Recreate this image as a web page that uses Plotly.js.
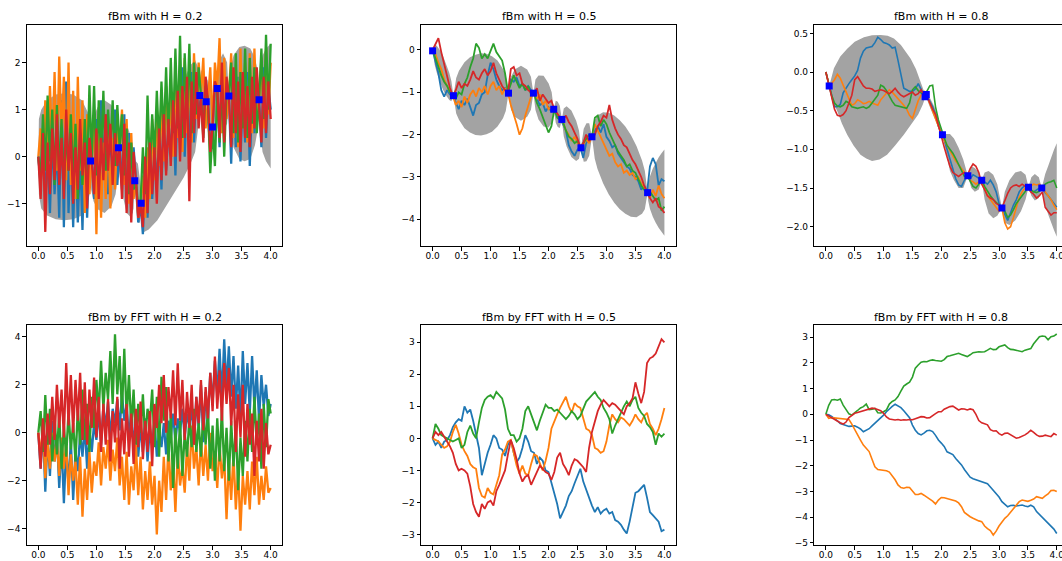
<!DOCTYPE html>
<html><head><meta charset="utf-8">
<script src="https://cdn.plot.ly/plotly-3.0.1.min.js"></script>
<style>html,body{margin:0;padding:0;overflow:hidden;background:#fff;}#chart{width:1080px;height:561px;}</style>
</head><body><div id="chart"></div>
<script>
// ---------- titles & ticks ----------
const titles = ['fBm with H = 0.2','fBm with H = 0.5','fBm with H = 0.8',
                'fBm by FFT with H = 0.2','fBm by FFT with H = 0.5','fBm by FFT with H = 0.8'];
const xTicks = [0,0.5,1,1.5,2,2.5,3,3.5,4];
const xTickText = ['0.0','0.5','1.0','1.5','2.0','2.5','3.0','3.5','4.0'];
const yTicks = [[-1,0,1,2],[-4,-3,-2,-1,0],[-2,-1.5,-1,-0.5,0,0.5],[-4,-2,0,2,4],[-3,-2,-1,0,1,2,3],[-5,-4,-3,-2,-1,0,1,2,3]];
const yTickText = [['−1','0','1','2'],['−4','−3','−2','−1','0'],['−2.0','−1.5','−1.0','−0.5','0.0','0.5'],
                   ['−4','−2','0','2','4'],['−3','−2','−1','0','1','2','3'],['−5','−4','−3','−2','−1','0','1','2','3']];
const yRanges = [[-1.9,2.8],[-4.63,0.59],[-2.25,0.608],[-4.68,4.49],[-3.33,3.54],[-5.09,3.48]];

// time grids (sampling of the paths)
const t04 = Array.from({length:101},(_,i)=>+(i*0.04).toFixed(2));
const t05 = Array.from({length:81},(_,i)=>+(i*0.05).toFixed(2));

// ---------- plot 1: fBm H=0.2 (conditioned) ----------
const p1Blue = [0,-0.6,0.4,-1.0,0.2,-1.2,0.5,-0.8,0.3,-1.3,1.2,
 -1.5,1.6,-1.2,0.4,-1.5,0.3,-1.4,0.1,-1.56,0.5,-1.3,0.2,
 -0.1,
 -0.9,0.8,-0.7,1.2,-0.4,0.9,-0.8,0.6,-0.3,1.0,-0.6,
 0.2,
 -0.7,0.9,-1.0,0.5,-1.2,0.2,
 -0.5,-1.4,-1.0,
 -1.65,-0.2,-1.3,0.4,-0.9,0.1,-0.6,0.7,-0.7,1.0,-0.3,0.6,0.1,1.3,-0.4,1.5,0.3,1.9,0.0,1.6,0.4,1.8,0.3,1.5,0.9,
 1.3,
 0.5,1.6,1.17,0.2,
 0.63,1.5,1.45,
 0.2,1.8,0.5,1.6,
 1.29,
 -0.15,1.5,0.2,1.7,-0.1,1.4,0.3,1.8,-0.2,1.2,0.5,1.6,
 1.2,
 0.2,1.9,0.4,1.5,1.0];
const p1Orange = [0,0.6,-0.4,1.2,-0.2,1.5,0.1,1.8,-0.3,2.13,0.4,
 1.7,-0.5,2.0,-0.6,1.4,-0.9,1.7,-0.3,1.2,-1.2,0.9,-0.8,
 -0.1,
 0.8,-1.65,0.6,-1.3,0.3,-0.9,0.7,-1.1,0.4,-0.7,0.6,
 0.2,
 1.0,-0.6,0.8,-1.0,0.5,-0.9,
 -0.5,-1.3,-1.0,
 -0.4,-1.3,0.2,-0.9,0.8,-0.5,1.0,-0.2,1.2,-0.1,1.5,0.2,1.3,0.0,1.7,0.4,1.9,0.1,2.1,0.5,1.8,0.3,2.2,0.8,2.0,
 1.3,
 2.1,0.6,1.17,1.9,
 0.63,2.0,1.45,
 2.52,0.5,2.1,0.8,
 1.29,
 2.2,0.4,1.9,0.2,2.3,0.6,2.0,0.3,2.2,0.5,2.3,0.7,
 1.2,
 2.1,0.6,2.3,0.9,2.0];
const p1Green = [0,-0.5,0.9,-0.3,1.3,-0.1,1.0,-0.6,1.1,-0.4,0.8,
 -0.7,0.6,-0.3,0.9,-0.5,0.7,-0.9,0.5,-0.6,0.8,-0.4,1.52,
 -0.1,
 1.5,-0.4,1.2,0.0,1.4,-0.3,1.0,0.1,1.2,-0.2,1.1,
 0.2,
 0.9,-0.4,0.6,-0.8,0.3,-0.7,
 -0.5,-1.1,-1.0,
 0.2,-0.8,1.3,-0.3,0.9,0.0,1.4,0.2,1.6,0.4,1.9,0.3,2.1,0.5,2.3,0.6,2.57,0.4,2.2,0.8,2.4,0.5,2.0,0.9,1.9,
 1.3,
 0.4,1.5,1.17,-0.35,
 0.63,-0.2,1.45,
 0.3,1.6,0.0,1.4,
 1.29,
 2.0,0.5,2.2,0.3,1.8,0.6,2.3,0.4,2.1,0.7,1.9,0.5,
 1.2,
 2.3,0.8,2.59,1.0,2.4];
const p1Red = [0,-0.9,0.5,-1.6,0.3,-0.8,0.6,-0.5,0.9,-0.6,0.4,
 -0.9,1.0,-0.3,0.5,-1.0,0.2,-0.7,0.8,-0.4,0.3,-1.1,0.4,
 -0.1,
 -0.8,0.6,-0.9,0.4,-0.5,0.9,-0.3,0.7,-0.6,0.5,-0.2,
 0.2,
 -0.9,0.7,-1.2,0.3,-1.4,0.1,
 -0.5,-1.3,-1.0,
 -1.5,0.0,-1.2,0.3,-0.8,0.2,-1.0,0.6,-0.5,0.9,-0.4,0.8,-0.2,1.2,0.0,1.4,-0.1,1.5,0.4,1.7,-0.95,1.6,0.5,1.8,0.6,
 1.3,
 0.3,1.7,1.17,0.1,
 0.63,1.6,1.45,
 0.4,2.0,0.3,1.7,
 1.29,
 0.2,1.9,0.5,1.6,0.1,1.8,0.4,1.5,0.2,1.7,0.6,1.9,
 1.2,
 0.3,1.7,0.5,1.6,0.8];
const p1PtsX = [0.90,1.38,1.66,1.77,2.78,2.89,3.00,3.08,3.28,3.80];
const p1PtsY = [-0.09,0.19,-0.51,-0.99,1.30,1.17,0.63,1.45,1.29,1.21];
const p1BandX = [0,0.01,0.05,0.15,0.3,0.45,0.6,0.75,0.85,0.89,0.90,
 0.91,0.95,1.02,1.14,1.26,1.33,1.37,1.38,
 1.39,1.43,1.52,1.6,1.64,1.66,
 1.68,1.715,1.75,1.77,
 1.78,1.82,1.9,2.05,2.2,2.35,2.5,2.62,2.7,2.75,2.78,
 2.80,2.835,2.87,2.89,
 2.91,2.945,2.98,3.00,
 3.02,3.04,3.065,3.08,
 3.10,3.18,3.25,3.28,
 3.30,3.36,3.46,3.55,3.65,3.73,3.78,3.80,
 3.82,3.86,3.92,4.0];
const p1BandUp = [0,0.8,1.0,1.2,1.32,1.35,1.32,1.2,0.95,0.6,-0.09,
 0.5,0.85,1.05,1.2,1.1,0.9,0.6,0.19,
 0.6,0.8,0.7,0.4,0.1,-0.51,
 -0.1,-0.15,-0.5,-0.99,
 -0.5,-0.2,0.05,0.45,0.8,1.2,1.6,1.95,2.05,1.9,1.30,
 1.8,1.9,1.75,1.17,
 1.65,1.55,1.2,0.63,
 1.3,1.6,1.85,1.45,
 2.0,2.2,2.0,1.29,
 1.85,2.15,2.33,2.36,2.3,2.1,1.8,1.21,
 1.9,2.15,2.3,2.4];
const p1BandLo = [0,-0.8,-1.1,-1.25,-1.33,-1.35,-1.33,-1.25,-1.0,-0.75,-0.09,
 -0.7,-0.95,-1.12,-1.2,-1.05,-0.8,-0.4,0.19,
 -0.3,-0.7,-1.2,-1.3,-1.1,-0.51,
 -1.0,-1.4,-1.4,-0.99,
 -1.45,-1.6,-1.55,-1.35,-1.05,-0.75,-0.45,-0.15,0.1,0.6,1.30,
 0.8,0.6,0.7,1.17,
 0.6,0.3,0.2,0.63,
 0.3,0.4,0.8,1.45,
 0.9,0.55,0.7,1.29,
 0.7,0.2,-0.05,-0.1,-0.05,0.25,0.6,1.21,
 0.5,0.1,-0.1,-0.25];

// ---------- plot 2: fBm H=0.5 (conditioned) ----------
const p2Blue = [0,-0.25,-0.55,-0.95,-1.1,-0.95,-1.05,-1.08,-1.25,-1.4,
 -1.2,-1.3,-1.15,-1.35,-1.55,-1.3,-1.25,-1.05,-1.0,-0.6,
 -0.3,-0.45,-0.7,-0.85,-0.95,-0.9,-1.02,-0.7,-0.75,-0.65,
 -0.85,-0.8,-0.95,-0.85,-0.95,-1.02,-1.15,-1.3,-1.25,-1.45,
 -1.35,-1.45,-1.4,-1.55,-1.65,-1.75,-1.9,-2.25,-2.4,-2.5,
 -2.35,-2.3,-2.55,-2.2,-2.1,-2.05,-1.9,-1.8,-1.95,-1.75,
 -2.05,-2.15,-2.3,-2.25,-2.45,-2.55,-2.65,-2.75,-2.8,-2.95,
 -3.0,-3.1,-3.3,-3.2,-3.37,-2.75,-2.55,-2.7,-3.2,-3.05,
 -3.1];
const p2Orange = [0,-0.1,-0.3,-0.45,-0.7,-0.85,-1.0,-1.08,-1.3,-1.2,
 -1.35,-1.1,-1.25,-1.05,-0.95,-1.1,-0.9,-1.0,-0.85,-1.05,
 -0.85,-0.75,-0.95,-0.85,-1.05,-0.9,-1.02,-1.3,-1.5,-1.75,
 -2.0,-1.85,-1.55,-1.35,-1.1,-1.02,-1.15,-1.05,-1.3,-1.2,
 -1.4,-1.35,-1.45,-1.5,-1.6,-1.7,-1.9,-2.0,-2.15,-2.05,
 -2.2,-2.3,-2.25,-2.1,-2.2,-2.05,-1.75,-1.9,-2.05,-2.2,
 -2.35,-2.5,-2.45,-2.65,-2.75,-2.7,-2.9,-2.85,-2.95,-2.9,
 -3.05,-3.0,-3.15,-3.25,-3.37,-3.5,-3.3,-3.45,-3.2,-3.4,
 -3.5];
const p2Green = [0,-0.2,-0.45,-0.6,-0.75,-0.85,-1.0,-1.08,-1.15,-1.0,
 -1.05,-0.8,-0.65,-0.4,-0.2,0.15,0.05,-0.2,-0.1,-0.2,
 0.0,0.15,-0.05,-0.15,-0.25,-0.55,-1.0,-0.8,-0.6,-0.75,
 -0.9,-0.8,-0.95,-0.85,-1.05,-1.02,-1.25,-1.4,-1.6,-1.75,
 -1.95,-1.8,-1.4,-1.6,-1.65,-1.7,-1.9,-2.05,-2.1,-2.2,
 -2.15,-2.3,-2.2,-2.1,-2.0,-2.05,-1.6,-1.55,-1.8,-1.65,
 -1.75,-1.95,-2.1,-2.25,-2.4,-2.5,-2.6,-2.75,-2.7,-2.85,
 -2.9,-3.05,-3.2,-3.3,-3.37,-3.35,-3.45,-3.55,-3.5,-3.8,
 -3.7];
const p2Red = [0,0.15,0.28,-0.05,-0.35,-0.65,-0.9,-1.08,-0.95,-0.75,
 -0.9,-0.8,-0.85,-0.7,-0.5,-0.65,-0.7,-0.55,-0.45,-0.6,
 -0.5,-0.3,-0.55,-0.7,-0.85,-0.95,-1.02,-0.45,-0.4,-0.6,
 -0.55,-0.8,-0.85,-0.95,-1.0,-1.02,-0.9,-1.2,-1.05,-1.15,
 -1.25,-1.2,-1.4,-1.5,-1.6,-1.65,-1.55,-1.7,-1.8,-1.95,
 -2.1,-2.3,-2.2,-2.0,-2.15,-2.05,-2.0,-1.8,-1.7,-1.55,
 -1.6,-1.3,-1.65,-1.85,-2.0,-2.1,-2.25,-2.3,-2.45,-2.6,
 -2.7,-2.85,-3.0,-3.2,-3.37,-3.5,-3.6,-3.5,-3.7,-3.75,
 -3.85];
const p2PtsX = [0,0.36,1.31,1.74,2.09,2.23,2.56,2.75,3.71];
const p2PtsY = [-0.02,-1.08,-1.02,-1.02,-1.40,-1.64,-2.31,-2.05,-3.37];
const p2BandX = [0,0.036,0.072,0.108,0.144,0.18,0.216,0.252,0.288,0.324,0.36,
 0.4075,0.455,0.55,0.645,0.74,0.835,0.93,1.025,1.12,1.215,1.2625,1.31,
 1.353,1.4175,1.525,1.6325,1.697,1.74,
 1.775,1.8275,1.915,2.0025,2.055,2.09,
 2.125,2.16,2.195,2.23,
 2.263,2.3125,2.395,2.4775,2.527,2.56,
 2.6075,2.655,2.7025,2.75,
 2.798,2.846,2.942,3.038,3.134,3.23,3.326,3.422,3.518,3.614,3.662,3.71,
 3.72,3.75,3.80,3.85,3.90,3.95,4.00];
const p2BandUp = [0,0.13,0.10,0.04,-0.04,-0.14,-0.26,-0.39,-0.54,-0.73,-1.08,
 -0.66,-0.49,-0.29,-0.17,-0.11,-0.08,-0.09,-0.15,-0.25,-0.45,-0.60,-1.02,
 -0.63,-0.46,-0.37,-0.46,-0.63,-1.02,
 -0.70,-0.60,-0.61,-0.79,-1.00,-1.40,
 -1.20,-1.22,-1.32,-1.64,
 -1.38,-1.33,-1.43,-1.67,-1.91,-2.31,
 -1.86,-1.73,-1.73,-2.05,
 -1.66,-1.55,-1.47,-1.48,-1.55,-1.66,-1.81,-2.01,-2.27,-2.61,-2.85,-3.37,
 -3.18,-2.99,-2.80,-2.66,-2.54,-2.44,-2.35];
const p2BandLo = [0,-0.35,-0.54,-0.69,-0.82,-0.94,-1.04,-1.12,-1.18,-1.21,-1.08,
 -1.50,-1.65,-1.85,-1.95,-2.01,-2.02,-1.99,-1.93,-1.81,-1.61,-1.44,-1.02,
 -1.41,-1.58,-1.67,-1.58,-1.41,-1.02,
 -1.42,-1.64,-1.81,-1.83,-1.72,-1.40,
 -1.72,-1.82,-1.84,-1.64,
 -2.04,-2.28,-2.53,-2.62,-2.57,-2.31,
 -2.64,-2.63,-2.50,-2.05,
 -2.57,-2.81,-3.15,-3.41,-3.61,-3.76,-3.87,-3.94,-3.95,-3.87,-3.76,-3.37,
 -3.56,-3.75,-3.94,-4.08,-4.20,-4.30,-4.39];

// ---------- plot 3: fBm H=0.8 (conditioned) ----------
const p3Blue = [0,-0.15,-0.3,-0.45,-0.45,-0.42,-0.27,-0.2,-0.15,-0.1,
 -0.05,0.02,0.18,0.27,0.31,0.32,0.33,0.38,0.45,0.42,
 0.38,0.37,0.35,0.31,0.32,0.15,-0.05,-0.21,-0.23,-0.25,
 -0.25,-0.22,-0.15,-0.22,-0.3,-0.31,-0.38,-0.45,-0.55,-0.7,
 -0.8,-0.88,-1.0,-1.12,-1.25,-1.38,-1.46,-1.48,-1.4,-1.34,
 -1.38,-1.33,-1.35,-1.38,-1.4,-1.42,-1.45,-1.4,-1.46,-1.55,
 -1.7,-1.76,-1.85,-1.92,-1.82,-1.72,-1.65,-1.55,-1.5,-1.47,
 -1.49,-1.53,-1.55,-1.52,-1.5,-1.5,-1.56,-1.6,-1.65,-1.7,
 -1.75];
const p3Orange = [0,-0.15,-0.15,-0.1,-0.03,-0.08,-0.17,-0.25,-0.35,-0.43,
 -0.41,-0.36,-0.38,-0.41,-0.4,-0.38,-0.4,-0.42,-0.43,-0.36,
 -0.32,-0.27,-0.23,-0.26,-0.3,-0.35,-0.38,-0.43,-0.48,-0.56,
 -0.6,-0.47,-0.37,-0.3,-0.25,-0.31,-0.4,-0.5,-0.6,-0.7,
 -0.8,-0.88,-0.95,-1.02,-1.1,-1.15,-1.2,-1.25,-1.3,-1.34,
 -1.4,-1.42,-1.45,-1.42,-1.4,-1.5,-1.6,-1.65,-1.7,-1.75,
 -1.8,-1.76,-1.95,-2.03,-2.0,-1.88,-1.75,-1.62,-1.55,-1.5,
 -1.5,-1.47,-1.45,-1.46,-1.45,-1.5,-1.55,-1.6,-1.65,-1.72,
 -1.78];
const p3Green = [0,-0.15,-0.3,-0.4,-0.44,-0.45,-0.43,-0.38,-0.4,-0.45,
 -0.46,-0.47,-0.46,-0.45,-0.47,-0.45,-0.4,-0.35,-0.3,-0.17,
 -0.19,-0.24,-0.32,-0.38,-0.43,-0.44,-0.45,-0.46,-0.47,-0.4,
 -0.23,-0.19,-0.24,-0.27,-0.3,-0.25,-0.18,-0.17,-0.45,-0.62,
 -0.75,-0.85,-0.95,-1.0,-1.05,-1.12,-1.2,-1.28,-1.35,-1.34,
 -1.42,-1.48,-1.5,-1.45,-1.4,-1.48,-1.55,-1.6,-1.65,-1.68,
 -1.72,-1.76,-1.8,-1.88,-1.85,-1.78,-1.7,-1.65,-1.6,-1.55,
 -1.5,-1.52,-1.55,-1.56,-1.54,-1.5,-1.45,-1.43,-1.42,-1.4,
 -1.5];
const p3Red = [0,-0.17,-0.35,-0.48,-0.56,-0.57,-0.55,-0.5,-0.4,-0.3,
 -0.1,-0.06,-0.12,-0.18,-0.21,-0.21,-0.22,-0.25,-0.24,-0.23,
 -0.24,-0.26,-0.28,-0.25,-0.21,-0.26,-0.3,-0.32,-0.3,-0.28,
 -0.26,-0.3,-0.28,-0.23,-0.3,-0.31,-0.4,-0.48,-0.55,-0.7,
 -0.85,-0.97,-1.1,-1.22,-1.3,-1.33,-1.35,-1.32,-1.3,-1.34,
 -1.25,-1.19,-1.22,-1.3,-1.45,-1.52,-1.6,-1.63,-1.65,-1.7,
 -1.72,-1.76,-1.65,-1.57,-1.5,-1.47,-1.46,-1.48,-1.45,-1.47,
 -1.5,-1.55,-1.58,-1.63,-1.6,-1.55,-1.75,-1.8,-1.85,-1.82,
 -1.82];
const p3PtsX = [0.058,1.72,1.74,2.02,2.46,2.70,3.05,3.51,3.74];
const p3PtsY = [-0.18,-0.32,-0.29,-0.81,-1.34,-1.40,-1.76,-1.49,-1.50];
const p3UpX = [0,0.03,0.058,0.14,0.25,0.37,0.5,0.66,0.8,0.95,1.07,1.18,1.3,1.4,1.47,1.56,1.64,1.69,1.73,
 1.8,1.88,1.95,2.02,2.08,2.15,2.22,2.3,2.38,2.46,2.52,2.58,2.65,2.70,2.75,2.82,2.9,2.97,3.05,
 3.1,3.18,3.28,3.38,3.46,3.51,3.56,3.62,3.69,3.74,3.8,3.85,3.9,3.95,4.0];
const p3UpY = [0,-0.05,-0.18,0.05,0.2,0.3,0.39,0.45,0.475,0.48,0.47,0.435,0.35,0.25,0.17,0.04,-0.125,-0.22,-0.31,
 -0.33,-0.45,-0.6,-0.81,-0.8,-0.8,-0.86,-0.98,-1.13,-1.34,-1.22,-1.24,-1.3,-1.40,-1.3,-1.28,-1.33,-1.45,-1.76,
 -1.55,-1.4,-1.3,-1.28,-1.33,-1.49,-1.36,-1.32,-1.36,-1.50,-1.32,-1.22,-1.11,-1.01,-0.92];
const p3LoX = [0,0.03,0.058,0.1,0.2,0.28,0.37,0.48,0.6,0.7,0.8,0.93,1.06,1.2,1.35,1.5,1.6,1.68,1.73,
 1.8,1.88,1.95,2.02,2.08,2.15,2.22,2.3,2.38,2.46,2.52,2.58,2.65,2.70,2.75,2.82,2.9,2.97,3.05,
 3.1,3.18,3.28,3.38,3.46,3.51,3.56,3.62,3.69,3.74,3.8,3.85,3.9,3.95,4.0];
const p3LoY = [0,-0.12,-0.18,-0.35,-0.51,-0.67,-0.81,-0.95,-1.07,-1.12,-1.15,-1.13,-1.07,-0.95,-0.81,-0.66,-0.55,-0.42,-0.31,
 -0.45,-0.6,-0.72,-0.81,-1.05,-1.28,-1.4,-1.5,-1.5,-1.34,-1.5,-1.55,-1.52,-1.40,-1.65,-1.83,-1.89,-1.86,-1.76,
 -1.95,-1.98,-1.92,-1.8,-1.65,-1.49,-1.6,-1.66,-1.63,-1.50,-1.72,-1.84,-1.95,-2.04,-2.13];

// ---------- plot 4: FFT H=0.2 ----------
const p4Blue = [0,-1.5,0.3,-2.46,-0.2,-1.8,0.5,-1.2,-0.1,-2.3,-0.4,
 -2.94,-0.6,-2.2,-0.3,-2.8,-0.8,-1.6,0.0,-1.0,0.3,
 -1.5,0.1,-0.8,0.4,-0.3,0.9,-0.5,1.1,0.2,1.3,
 -0.2,1.0,0.4,1.4,0.1,1.64,0.5,1.2,-0.3,1.0,
 -0.6,0.5,-1.0,0.3,-0.8,0.6,-1.2,0.2,-0.5,0.5,
 -1.0,0.1,-0.6,0.4,-0.9,0.5,-0.2,0.8,-0.4,0.6,
 0.0,1.0,-0.2,0.8,0.3,1.1,-0.5,1.5,0.2,2.0,
 -0.4,1.7,0.5,2.5,1.2,3.0,1.6,3.5,1.4,3.89,
 1.8,3.6,1.5,3.2,1.0,2.8,0.6,3.4,1.2,2.9,
 0.8,3.2,1.0,2.6,0.5,2.4,1.1,2.0,0.7,1.2];
const p4Orange = [0,-1.0,0.3,-1.9,-0.3,-1.5,0.0,-1.2,-0.4,-1.8,-0.2,
 -1.5,-0.4,-2.6,-0.9,-2.0,-1.2,-3.0,-1.0,-3.5,-1.5,
 -2.8,-0.8,-2.5,-1.2,-1.8,-0.4,-2.2,-0.6,-1.5,-0.3,
 -2.0,-0.7,-1.6,-0.2,-2.2,-1.0,-2.8,-0.8,-3.0,-1.4,
 -2.4,-0.5,-2.6,-1.0,-3.2,-1.6,-2.8,-1.2,-3.0,-1.8,
 -4.24,-2.0,-3.3,-1.0,-2.8,-0.5,-2.4,-1.2,-3.3,-0.8,
 -2.2,-1.4,-2.5,-0.5,-2.0,0.3,-1.5,-0.6,-2.2,-0.3,
 -1.8,-0.5,-2.0,0.0,-1.6,-0.8,-2.3,-0.5,-1.9,-1.0,
 -3.6,-1.2,-2.8,-0.9,-3.2,-1.5,-4.08,-1.8,-3.0,-1.6,
 -3.2,-1.2,-2.6,-1.0,-3.0,-1.8,-2.8,-1.4,-2.5,-2.3];
const p4Green = [0,0.9,-0.8,1.57,-0.5,1.0,-1.2,0.6,-0.9,0.8,-1.5,
 0.3,-1.0,0.9,-0.7,0.4,-1.2,1.0,-0.5,1.8,-0.3,
 1.2,-0.8,1.5,0.2,2.2,0.8,3.0,1.0,2.5,1.4,
 3.4,1.2,4.1,1.6,3.2,0.8,3.5,0.6,2.4,0.2,
 1.8,-0.5,1.2,0.0,1.6,-0.3,1.0,0.4,1.8,-0.6,
 1.5,-1.0,2.33,0.5,1.9,-1.2,0.8,-2.3,0.2,-1.5,
 0.5,-1.8,0.0,-1.0,0.6,-0.6,1.0,-0.8,0.4,-1.0,
 0.8,-0.5,1.0,-1.5,0.3,-2.0,0.6,-1.2,1.0,-1.6,
 0.2,-2.0,0.5,-1.4,0.3,-2.4,-0.2,-1.8,0.5,-1.2,
 1.0,-0.8,1.5,-0.5,0.8,-1.5,1.2,-0.6,1.4,0.8];
const p4Red = [0,-1.5,0.6,-1.0,0.8,-0.5,1.5,-0.3,2.0,0.2,1.8,
 -0.2,2.9,0.3,2.4,0.0,2.2,0.5,2.5,-0.3,2.1,
 -0.5,1.8,0.2,2.3,-0.2,1.5,-0.8,1.2,-0.5,1.4,
 -1.2,0.9,-0.4,1.5,-1.5,0.6,-0.9,1.2,-1.0,0.8,
 -1.3,1.0,-0.6,1.3,-1.1,0.5,-0.8,0.9,-1.4,1.2,
 0.2,2.0,0.4,2.4,0.0,1.9,0.6,2.6,0.3,2.89,
 0.5,2.2,-0.3,1.7,0.2,2.0,-0.5,1.5,0.4,2.2,
 0.1,1.9,0.6,2.5,0.9,3.17,1.0,2.6,0.5,2.9,
 1.2,2.7,0.3,2.0,-0.8,1.6,-0.2,2.0,-1.0,1.2,
 -0.5,0.8,-1.8,0.5,-1.2,1.0,-1.5,0.4,-0.9,-0.5];

// ---------- plot 5: FFT H=0.5 ----------
const p5Blue = [0,-0.2,-0.1,-0.3,-0.1,-0.05,0.1,0.35,0.5,0.6,
 0.55,1.0,0.8,0.9,0.55,0.15,-0.3,-1.15,-0.75,-0.45,
 -0.2,0.1,0.0,-0.3,-0.35,-0.55,-0.2,-0.05,-0.45,-0.75,
 -0.6,-0.3,0.1,-0.1,-0.4,-0.45,-0.8,-0.6,-0.7,-1.0,
 -1.05,-1.4,-1.75,-2.05,-2.5,-2.3,-2.1,-1.8,-1.65,-1.4,
 -1.15,-0.95,-1.35,-1.6,-1.9,-2.1,-2.3,-2.15,-2.35,-2.25,
 -2.2,-2.35,-2.3,-2.55,-2.6,-2.7,-2.85,-2.97,-2.6,-2.2,
 -1.7,-1.65,-1.55,-1.45,-1.85,-2.3,-2.4,-2.5,-2.6,-2.9,
 -2.85];
const p5Orange = [0,-0.05,-0.1,-0.2,-0.3,-0.25,-0.1,0.2,0.42,0.15,
 -0.2,-0.4,-0.55,-0.8,-0.9,-0.95,-1.55,-1.8,-1.85,-1.55,
 -1.7,-1.75,-1.45,-1.15,-0.5,-0.35,-0.1,-0.05,-0.45,-0.85,
 -1.1,-0.85,-1.1,-1.15,-0.8,-0.5,-0.55,-0.75,-1.0,-0.7,
 -0.3,0.3,0.55,0.75,0.95,1.15,1.3,1.0,0.8,1.1,
 1.0,0.95,0.6,0.3,0.25,0.1,-0.3,-0.35,-0.45,-0.4,
 -0.1,0.4,0.75,0.6,0.5,0.65,0.6,0.5,0.4,0.55,
 0.75,0.6,0.5,0.7,0.8,0.45,0.3,0.1,0.3,0.6,
 0.95];
const p5Green = [0,0.45,0.3,0.1,0.05,0.0,-0.05,-0.1,-0.05,0.0,
 -0.3,-0.2,0.2,0.4,0.15,0.0,0.5,0.95,1.2,1.3,
 1.35,1.25,1.45,1.35,1.25,0.9,0.3,0.1,0.1,-0.1,
 0.0,0.3,0.85,1.0,0.75,0.55,0.25,0.55,0.8,1.05,
 0.95,0.95,0.85,0.9,0.8,0.7,0.6,0.7,0.85,0.75,
 0.6,0.7,0.9,1.15,1.25,1.35,1.45,1.3,1.2,0.95,
 0.8,0.6,0.15,0.4,0.6,0.85,1.0,1.15,1.0,1.2,
 1.3,0.95,0.8,0.7,0.45,0.35,0.2,-0.2,0.15,0.05,
 0.15];
const p5Red = [0,0.2,0.1,0.2,0.05,-0.1,-0.25,-0.45,-0.8,-1.0,
 -0.95,-1.0,-1.1,-1.5,-2.05,-2.3,-2.45,-2.05,-2.2,-2.0,
 -1.95,-2.1,-1.65,-1.45,-1.25,-1.0,-0.5,-0.05,-0.3,-0.65,
 -1.1,-1.35,-1.2,-1.15,-1.45,-1.25,-1.0,-0.85,-0.95,-1.05,
 -1.1,-1.3,-1.05,-0.6,-0.45,-0.8,-0.95,-1.15,-0.85,-0.65,
 -0.7,-0.8,-0.9,-1.05,-0.3,0.2,0.55,0.85,1.05,1.2,
 1.1,1.0,1.1,1.05,0.95,0.85,0.75,1.0,1.1,1.25,
 1.75,1.4,1.1,1.45,2.35,2.5,2.55,2.65,2.85,3.1,
 3.0];

// ---------- plot 6: FFT H=0.8 ----------
const p6Blue = [0,-0.02,-0.08,-0.15,-0.25,-0.36,-0.4,-0.43,-0.47,-0.46,
 -0.45,-0.5,-0.57,-0.68,-0.62,-0.56,-0.45,-0.35,-0.24,-0.12,
 -0.03,0.1,0.22,0.31,0.39,0.34,0.26,0.14,0.0,-0.13,
 -0.42,-0.62,-0.75,-0.8,-0.73,-0.64,-0.62,-0.67,-0.82,-1.0,
 -1.12,-1.25,-1.46,-1.5,-1.57,-1.72,-1.85,-1.97,-2.15,-2.32,
 -2.45,-2.51,-2.55,-2.58,-2.62,-2.65,-2.7,-2.83,-2.95,-3.06,
 -3.22,-3.4,-3.52,-3.6,-3.55,-3.54,-3.57,-3.55,-3.53,-3.57,
 -3.6,-3.54,-3.6,-3.79,-3.9,-4.0,-4.12,-4.23,-4.35,-4.47,
 -4.64];
const p6Orange = [0,-0.16,-0.13,-0.14,-0.15,-0.16,-0.16,-0.17,-0.2,-0.38,
 -0.6,-0.83,-1.0,-1.2,-1.34,-1.45,-1.75,-2.04,-2.15,-2.17,
 -2.17,-2.2,-2.25,-2.38,-2.55,-2.75,-2.85,-2.88,-2.84,-2.85,
 -3.0,-3.12,-3.12,-3.08,-3.15,-3.21,-3.3,-3.38,-3.49,-3.34,
 -3.24,-3.25,-3.28,-3.32,-3.35,-3.38,-3.45,-3.6,-3.82,-3.92,
 -3.99,-4.05,-4.11,-4.15,-4.18,-4.35,-4.45,-4.53,-4.7,-4.55,
 -4.35,-4.18,-4.05,-3.95,-3.82,-3.68,-3.52,-3.4,-3.34,-3.38,
 -3.39,-3.35,-3.3,-3.21,-3.25,-3.27,-3.18,-3.1,-2.97,-2.96,
 -3.01];
const p6Green = [0,0.35,0.56,0.58,0.55,0.6,0.36,0.2,0.02,-0.03,
 0.05,0.15,0.25,0.3,0.4,0.18,0.2,0.23,0.06,0.05,
 0.1,0.17,0.4,0.5,0.56,0.69,0.9,1.1,1.18,1.25,
 1.45,1.8,1.92,2.03,2.06,2.05,2.1,2.12,2.1,2.08,
 2.07,2.13,2.25,2.28,2.31,2.35,2.38,2.33,2.3,2.25,
 2.32,2.4,2.42,2.44,2.43,2.44,2.5,2.57,2.52,2.53,
 2.63,2.67,2.7,2.6,2.53,2.52,2.5,2.46,2.44,2.5,
 2.54,2.56,2.75,2.9,3.02,3.05,3.03,2.9,3.02,3.05,
 3.13];
const p6Red = [0,-0.07,-0.13,-0.21,-0.28,-0.33,-0.38,-0.3,-0.13,-0.04,
 0.04,0.07,0.1,0.15,0.19,0.22,0.24,0.23,0.2,0.14,
 0.04,-0.1,-0.18,-0.21,-0.22,-0.2,-0.23,-0.21,-0.22,-0.2,
 -0.21,-0.17,-0.12,-0.09,-0.1,-0.14,-0.13,-0.04,0.03,0.1,
 0.1,0.2,0.26,0.3,0.32,0.25,0.17,0.22,0.21,0.17,
 0.21,0.18,0.0,-0.24,-0.33,-0.37,-0.41,-0.6,-0.65,-0.64,
 -0.75,-0.81,-0.74,-0.73,-0.8,-0.86,-0.93,-0.9,-0.86,-0.8,
 -0.72,-0.62,-0.7,-0.8,-0.86,-0.85,-0.81,-0.84,-0.87,-0.75,
 -0.81];

// ---------- drawing ----------
const C = {blue:'#1f77b4', orange:'#ff7f0e', green:'#2ca02c', red:'#d62728'};
const BAND = '#a3a3a3';
const ax = k => k === 0 ? '' : String(k+1);
const traces = [];
function lines(k, t, b, o, g, r, w) {
  [[b,C.blue],[o,C.orange],[g,C.green],[r,C.red]].forEach(([y,c]) => {
    traces.push({type:'scatter', mode:'lines', x:t, y:y, xaxis:'x'+ax(k), yaxis:'y'+ax(k),
                 line:{color:c, width:w}, hoverinfo:'skip', showlegend:false});
  });
}
function band(k, ux, uy, lx, ly) {
  traces.push({type:'scatter', mode:'lines', x:ux.concat(lx.slice().reverse()), y:uy.concat(ly.slice().reverse()),
               xaxis:'x'+ax(k), yaxis:'y'+ax(k), fill:'toself', fillcolor:BAND, line:{width:0, color:BAND},
               hoverinfo:'skip', showlegend:false});
}
function pts(k, x, y) {
  traces.push({type:'scatter', mode:'markers', x:x, y:y, xaxis:'x'+ax(k), yaxis:'y'+ax(k),
               marker:{symbol:'square', size:7, color:'#0000ff'}, hoverinfo:'skip', showlegend:false});
}
band(0, p1BandX, p1BandUp, p1BandX, p1BandLo);
lines(0, t04, p1Blue, p1Orange, p1Green, p1Red, 2.3);
pts(0, p1PtsX, p1PtsY);
band(1, p2BandX, p2BandUp, p2BandX, p2BandLo);
lines(1, t05, p2Blue, p2Orange, p2Green, p2Red, 1.8);
pts(1, p2PtsX, p2PtsY);
band(2, p3UpX, p3UpY, p3LoX, p3LoY);
lines(2, t05, p3Blue, p3Orange, p3Green, p3Red, 1.6);
pts(2, p3PtsX, p3PtsY);
lines(3, t04, p4Blue, p4Orange, p4Green, p4Red, 2.3);
lines(4, t05, p5Blue, p5Orange, p5Green, p5Red, 1.8);
lines(5, t05, p6Blue, p6Orange, p6Green, p6Red, 1.6);

const W = 1080, H = 561;
const domX = [[26.7/W, 282.3/W],[421/W, 676/W],[814.3/W, 1068.3/W]];
const domY = [[1-246/H, 1-25/H],[1-545/H, 1-325/H]];
const base = {showline:true, mirror:true, linecolor:'#000', linewidth:1, ticks:'outside', ticklen:3.5,
  tickwidth:1, tickcolor:'#000', showgrid:false, zeroline:false, fixedrange:true, tickmode:'array',
  tickfont:{family:'DejaVu Sans, sans-serif', size:9, color:'#000'}};
const layout = {width:W, height:H, margin:{l:0,r:0,t:0,b:0}, paper_bgcolor:'#fff', plot_bgcolor:'#fff',
  showlegend:false, annotations:[]};
for (let k=0;k<6;k++){
  const row = k<3?0:1, col = k%3;
  layout['xaxis'+ax(k)] = Object.assign({}, base, {domain:domX[col], range:[-0.2,4.2], anchor:'y'+ax(k),
    tickvals:xTicks, ticktext:xTickText, ticklabelstandoff:-2});
  layout['yaxis'+ax(k)] = Object.assign({}, base, {domain:domY[row], range:yRanges[k], anchor:'x'+ax(k),
    tickvals:yTicks[k], ticktext:yTickText[k]});
  layout.annotations.push({text:titles[k], xref:'paper', yref:'paper', x:(domX[col][0]+domX[col][1])/2,
    y:domY[row][1]+8/H, xanchor:'center', yanchor:'middle', showarrow:false,
    font:{family:'DejaVu Sans, sans-serif', size:11, color:'#000'}});
}
Plotly.newPlot('chart', traces, layout, {staticPlot:true, displayModeBar:false});
</script></body></html>
